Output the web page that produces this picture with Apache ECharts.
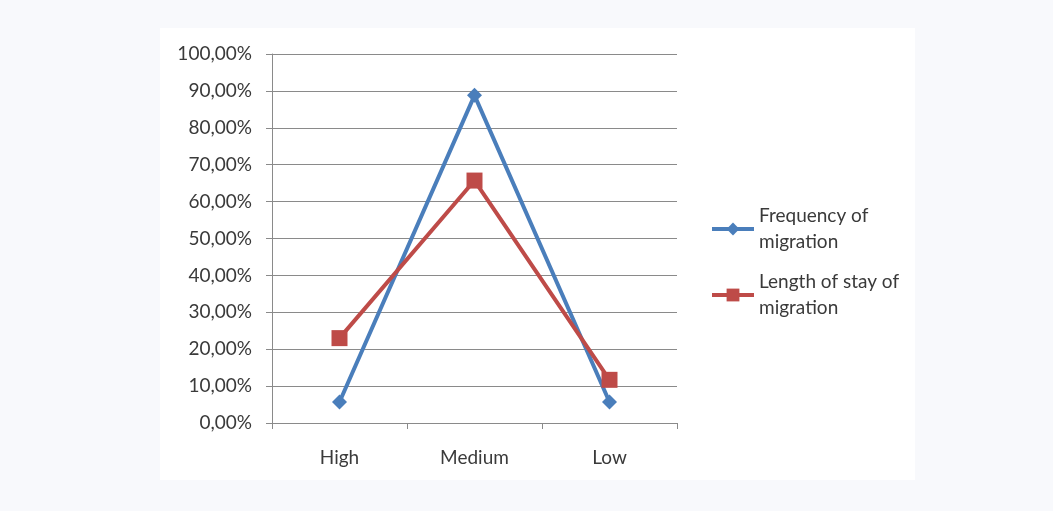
<!DOCTYPE html>
<html>
<head>
<meta charset="utf-8">
<script src="https://cdn.jsdelivr.net/npm/echarts@6/dist/echarts.min.js"></script>
<style>
html,body{margin:0;padding:0;background:#f8f9fc;}
#chart{width:1053px;height:511px;}
</style>
</head>
<body>
<div id="chart"></div>
<script>
const categories = ['High', 'Medium', 'Low'];
const seriesNames = ['Frequency of migration', 'Length of stay of migration'];
const legendLabels = ['Frequency of\nmigration', 'Length of stay of\nmigration'];
const frequencyValues = [5.7, 88.8, 5.7];
const lengthOfStayValues = [23.0, 65.7, 11.7];
const yTicks = [0, 10, 20, 30, 40, 50, 60, 70, 80, 90, 100];

const FONT = 'Lato, "Open Sans", sans-serif';
const chart = echarts.init(document.getElementById('chart'));
chart.setOption({
  backgroundColor: '#f8f9fc',
  animation: false,
  graphic: [{
    type: 'rect', z: -10, silent: true,
    shape: { x: 160, y: 28, width: 755, height: 452 },
    style: { fill: '#ffffff' }
  }],
  grid: { left: 272, top: 54, width: 405, height: 369, containLabel: false },
  legend: {
    orient: 'vertical',
    left: 705, top: 185,
    itemWidth: 42, itemHeight: 16,
    itemGap: -12,
    data: seriesNames,
    lineStyle: { width: 4 },
    formatter: function (name) { return legendLabels[seriesNames.indexOf(name)]; },
    textStyle: { fontFamily: FONT, fontSize: 19, color: '#3a3a3a', lineHeight: 26, padding: [26, 0, 0, 0] }
  },
  xAxis: {
    type: 'category',
    data: categories,
    boundaryGap: true,
    axisLine: { lineStyle: { color: '#8a8a8a', width: 1 } },
    axisTick: { show: true, length: 6, lineStyle: { color: '#8a8a8a' } },
    axisLabel: { fontFamily: FONT, fontSize: 19, color: '#3a3a3a', margin: 25 }
  },
  yAxis: {
    type: 'value',
    min: yTicks[0], max: yTicks[yTicks.length - 1], interval: 10,
    axisLine: { show: true, lineStyle: { color: '#8a8a8a', width: 1 } },
    axisTick: { show: true, length: 6, lineStyle: { color: '#8a8a8a' } },
    splitLine: { lineStyle: { color: '#8a8a8a', width: 1 } },
    axisLabel: {
      fontFamily: FONT, fontSize: 19, color: '#3a3a3a', margin: 20,
      formatter: function (v) { return v.toFixed(2).replace('.', ',') + '%'; }
    }
  },
  series: [
    {
      name: seriesNames[0], type: 'line', data: frequencyValues,
      symbol: 'diamond', symbolSize: 15,
      lineStyle: { color: '#4a7ebb', width: 4 },
      itemStyle: { color: '#4a7ebb' }
    },
    {
      name: seriesNames[1], type: 'line', data: lengthOfStayValues,
      symbol: 'rect', symbolSize: 16,
      lineStyle: { color: '#be4b48', width: 4 },
      itemStyle: { color: '#be4b48' }
    }
  ]
});
</script>
</body>
</html>
